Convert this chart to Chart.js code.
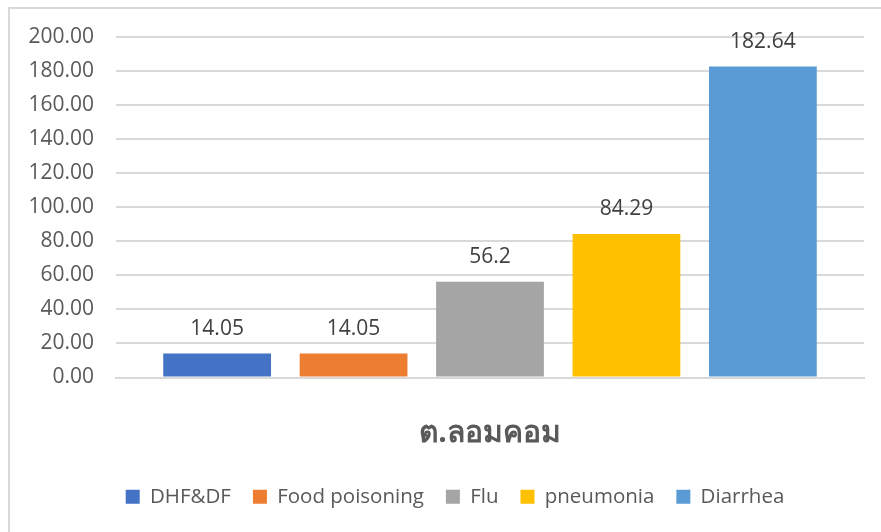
<!DOCTYPE html>
<html>
<head>
<meta charset="utf-8">
<script src="https://cdn.jsdelivr.net/npm/chart.js@4"></script>
<style>
  html, body { margin: 0; padding: 0; background: #fff; overflow: hidden; }
  #frame { position: absolute; left: 8px; top: 7px; width: 900px; height: 560px; border: 2px solid #d9d9d9; }
  #wrap { position: absolute; left: 0; top: 0; width: 881px; height: 532px; }
</style>
</head>
<body>
<div id="frame"></div>
<div id="wrap"><canvas id="chart1"></canvas></div>
<script>
// data
let category = ["ต.ลอมคอม"];
let seriesNames = ["DHF&DF", "Food poisoning", "Flu", "pneumonia", "Diarrhea"];
let seriesValues = [14.05, 14.05, 56.2, 84.29, 182.64];
let seriesColors = ["#4472C4", "#ED7D31", "#A5A5A5", "#FFC000", "#5B9BD5"];
let yMin = 0, yMax = 200, yStep = 20;

let fontName = "'Open Sans', 'Noto Sans', sans-serif";

let datasets = [];
for (let i = 0; i < seriesNames.length; i++) {
    datasets.push({
        label: seriesNames[i],
        data: [seriesValues[i]],
        backgroundColor: seriesColors[i],
        borderWidth: 0,
        categoryPercentage: 0.912,
        barPercentage: 0.79
    });
}

// value labels above each bar
let valueLabels = {
    id: "valueLabels",
    afterDatasetsDraw(chart) {
        let ctx = chart.ctx;
        ctx.save();
        ctx.font = "21px " + fontName;
        ctx.fillStyle = "#404040";
        ctx.textAlign = "center";
        ctx.textBaseline = "middle";
        chart.data.datasets.forEach((ds, i) => {
            let bar = chart.getDatasetMeta(i).data[0];
            ctx.fillText(String(ds.data[0]), bar.x, bar.y - 25);
        });
        ctx.restore();
    }
};

// legend sits a bit right of the canvas centre in the original
let legendShift = {
    id: "legendShift",
    afterLayout(chart) {
        chart.legend.left += 23;
        chart.legend.right += 23;
    }
};

let ctx = document.getElementById("chart1").getContext("2d");
let chart1 = new Chart(ctx, {
    type: "bar",
    data: {
        labels: category,
        datasets: datasets
    },
    options: {
        responsive: true,
        maintainAspectRatio: false,
        animation: false,
        layout: { padding: { top: 37, right: 17, left: 0, bottom: 15 } },
        plugins: {
            legend: {
                position: "bottom",
                labels: {
                    boxWidth: 14,
                    boxHeight: 14,
                    padding: 22,
                    color: "#595959",
                    font: { family: fontName, size: 20.5 }
                }
            },
            tooltip: { enabled: false }
        },
        scales: {
            x: {
                afterFit(scale) { scale.height = 87; },
                grid: { display: false },
                border: { display: true, color: "#d9d9d9", width: 2 },
                ticks: {
                    color: "#595959",
                    padding: 30,
                    font: { family: fontName, size: 30, weight: "bold" }
                }
            },
            y: {
                min: yMin,
                max: yMax,
                afterFit(scale) { scale.width = 116; },
                grid: { color: "#d9d9d9", lineWidth: 2, drawTicks: false },
                border: { display: false },
                ticks: {
                    stepSize: yStep,
                    padding: 22,
                    color: "#595959",
                    font: { family: fontName, size: 21 },
                    callback: v => v.toFixed(2)
                }
            }
        }
    },
    plugins: [valueLabels, legendShift]
});
</script>
</body>
</html>
